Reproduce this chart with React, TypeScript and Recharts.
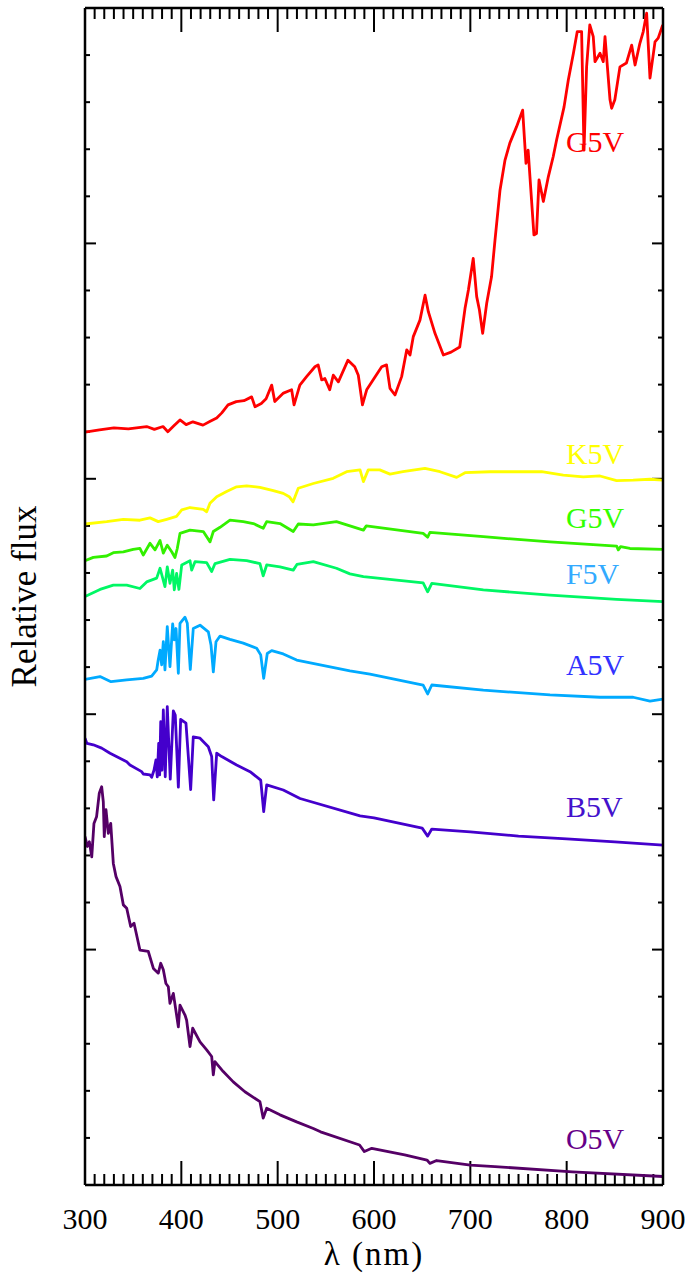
import { LineChart, Line, XAxis, YAxis, ReferenceDot, ReferenceLine } from "recharts"

const SERIF = '"Liberation Serif", "Times New Roman", serif'

// wavelength (nm), relative flux — one minor y tick per flux unit
const M_RED: [number, number][] = [
    [300, 15.99], [315, 16.04], [330, 16.08], [345, 16.06], [364, 16.11], [372, 16.05], [381, 16.11], [386, 16.0],
    [392, 16.12], [398.6, 16.25], [405, 16.15], [412, 16.21], [422.5, 16.14], [430, 16.22], [436.7, 16.29], [442, 16.4],
    [448.5, 16.57], [457, 16.64], [465, 16.66], [473, 16.74], [476.5, 16.53], [483, 16.6], [488, 16.7], [493.8, 16.99],
    [497, 16.64], [506, 16.82], [514.5, 16.89], [517, 16.57], [523, 16.99], [530, 17.17], [538.7, 17.38], [542, 17.42],
    [545.7, 17.1], [549, 17.13], [554, 16.89], [557.7, 17.2], [563, 17.06], [573, 17.52], [580, 17.38], [583.7, 17.2],
    [588, 16.57], [592.4, 16.89], [599, 17.1], [608, 17.38], [613, 17.42], [616.6, 16.92], [621.8, 16.78], [628.7, 17.17],
    [634, 17.74], [637.4, 17.63], [640.8, 18.02], [647.7, 18.37], [653, 18.9], [656.4, 18.55], [663.3, 18.09], [672, 17.63],
    [680, 17.69], [689, 17.8], [694.5, 18.62], [698, 19.01], [703, 19.68], [706.6, 18.87], [709.4, 18.59], [712.8, 18.09],
    [717, 18.73], [722, 19.29], [725.6, 20.07], [730.8, 21.13], [736, 21.77], [741, 22.13], [748, 22.48], [754.3, 22.83],
    [757.8, 21.7], [760, 21.98], [766, 20.18], [768.7, 20.21], [771.3, 21.35], [775.8, 20.89], [781, 21.42], [786, 21.84],
    [789.6, 22.2], [797.3, 22.9], [801.7, 23.47], [807, 24.04], [811, 24.5], [815.5, 24.5], [818, 21.98], [820.7, 23.75],
    [824, 24.64], [827.6, 24.39], [829.4, 23.86], [834.6, 24.04], [838, 23.86], [839.8, 24.39], [845, 23.05], [846.7, 22.87],
    [850, 23.05], [855.3, 23.75], [862, 23.83], [867.5, 24.21], [871, 23.79], [876, 24.25], [879.5, 24.5], [883, 24.89],
    [886.5, 23.51], [891.7, 24.28], [895, 24.36], [899.7, 24.64],
]

const K5V: [number, number][] = [
    [300, 14.04], [322.5, 14.09], [339.8, 14.14], [357, 14.12], [367.5, 14.17], [376, 14.09], [384.8, 14.14], [395, 14.2],
    [400.4, 14.34], [409, 14.39], [422.8, 14.35], [426.3, 14.3], [429.7, 14.48], [436.7, 14.62], [447, 14.73], [457.4, 14.83],
    [467.8, 14.85], [481.6, 14.82], [495.5, 14.75], [505.8, 14.69], [512, 14.62], [516, 14.51], [521.4, 14.8], [537, 14.9],
    [557.7, 15.01], [571.6, 15.15], [585.5, 15.19], [589, 14.94], [594, 15.19], [606, 15.19], [616.6, 15.1], [630, 15.15],
    [652.9, 15.22], [668.5, 15.15], [685.8, 15.03], [694.5, 15.13], [720.5, 15.15], [748, 15.15], [774, 15.15], [796.5, 15.08],
    [817.3, 15.04], [834.6, 15.06], [851.8, 14.96], [869, 14.97], [886.5, 14.99], [900, 14.97],
]

const G5V: [number, number][] = [
    [300, 13.26], [308.6, 13.33], [322.5, 13.36], [329.4, 13.43], [339.8, 13.45], [350, 13.5], [357, 13.52], [360.5, 13.38],
    [367.5, 13.63], [372.7, 13.49], [377.9, 13.69], [381.3, 13.42], [385.4, 13.59], [390, 13.45], [393.4, 13.33], [395.8, 13.52],
    [398.6, 13.84], [409, 13.91], [422.8, 13.88], [429.8, 13.66], [433.2, 13.88], [440.2, 13.97], [450.5, 14.12], [464.3, 14.09],
    [474.7, 14.05], [485, 13.95], [488.6, 14.09], [502.4, 14.05], [516.2, 13.88], [521.4, 14.04], [537, 14.02], [561, 14.09],
    [575, 14.0], [589, 13.91], [592, 14.0], [651, 13.84], [655.7, 13.76], [658, 13.86], [713.5, 13.77], [782.7, 13.66],
    [851.9, 13.57], [853.6, 13.49], [856, 13.56], [865.7, 13.52], [900, 13.5],
]

const F5V: [number, number][] = [
    [300, 12.5], [315.6, 12.65], [329.4, 12.74], [343.3, 12.74], [357, 12.67], [364, 12.81], [374.4, 12.89], [377.9, 13.1],
    [383, 12.71], [385.4, 13.13], [388.2, 12.78], [391, 13.06], [392.7, 12.64], [395.1, 12.99], [397.5, 12.65], [400.4, 13.17],
    [409, 13.26], [410.7, 13.06], [414.2, 13.24], [426.3, 13.22], [431.5, 13.03], [435, 13.2], [450.5, 13.29], [467.8, 13.26],
    [481.6, 13.2], [485, 12.94], [488.6, 13.17], [502.4, 13.13], [516.2, 13.06], [520, 13.18], [537, 13.24], [561, 13.1],
    [575, 12.98], [589, 12.92], [651, 12.79], [655.7, 12.6], [660, 12.78], [713.5, 12.64], [782.7, 12.53], [851.9, 12.44],
    [900, 12.39],
]

const A5V: [number, number][] = [
    [300, 10.74], [315.6, 10.8], [327, 10.69], [343.3, 10.73], [360.5, 10.76], [369.2, 10.81], [374.4, 10.94], [376, 11.15],
    [377.9, 11.36], [379.6, 11.05], [381.3, 11.54], [383, 10.94], [385.4, 11.86], [388.2, 11.01], [391, 11.92], [392.7, 11.58],
    [394.5, 11.82], [396.9, 10.87], [398.6, 11.93], [403.8, 12.06], [406.2, 11.93], [409.3, 10.95], [412.4, 11.82], [419.4, 11.89],
    [428, 11.75], [430.8, 11.47], [433.2, 10.9], [436, 11.54], [440.2, 11.66], [450.5, 11.59], [464.3, 11.51], [478.2, 11.4],
    [482.4, 11.26], [485.5, 10.76], [489.2, 11.29], [493.8, 11.35], [505.8, 11.28], [519.7, 11.15], [575, 10.92], [595.8, 10.85],
    [651, 10.62], [655.7, 10.43], [660, 10.62], [713.5, 10.51], [782.7, 10.41], [834.6, 10.36], [869, 10.36], [886.5, 10.28],
    [900, 10.32],
]

const B5V: [number, number][] = [
    [300, 9.49], [302, 9.38], [308.6, 9.35], [317.3, 9.28], [326, 9.17], [343.3, 8.99], [346.7, 8.92], [358.8, 8.78],
    [360.5, 8.73], [367.5, 8.71], [369.2, 8.66], [371.6, 8.81], [373.7, 9.03], [375, 8.67], [376.5, 9.38], [377.5, 8.71],
    [378.6, 9.84], [379.9, 8.81], [381.3, 10.09], [383.3, 8.67], [385.4, 10.16], [388.5, 8.62], [391.7, 10.07], [393.7, 9.98],
    [396.9, 8.45], [399.3, 9.89], [404.8, 9.81], [409.7, 8.4], [412.4, 9.52], [419.4, 9.49], [428, 9.31], [431.5, 9.1],
    [433.6, 8.18], [436.7, 9.17], [441.9, 9.1], [457.4, 8.92], [471.3, 8.78], [482.4, 8.6], [485.5, 7.93], [488.6, 8.5],
    [505.8, 8.39], [523.2, 8.21], [585.5, 7.84], [600, 7.8], [650, 7.58], [655.7, 7.41], [660, 7.56], [700, 7.5],
    [750, 7.41], [800, 7.35], [850, 7.29], [900, 7.22],
]

const O5V: [number, number][] = [
    [300, 7.4], [302.4, 7.19], [304.5, 7.29], [307, 6.97], [309.3, 7.68], [312, 7.82], [314.8, 8.32], [317.3, 8.46],
    [319, 8.14], [320, 7.4], [321.8, 7.97], [324.2, 7.47], [326.7, 7.68], [329.4, 6.83], [332.2, 6.55], [336.3, 6.34],
    [339.8, 5.95], [343.3, 5.88], [347.4, 5.49], [350.9, 5.56], [357, 4.99], [365.7, 4.96], [371, 4.6], [376.1, 4.5],
    [378.6, 4.71], [381.3, 4.57], [384, 4.28], [386.5, 4.21], [388.2, 3.86], [391.7, 4.07], [396.9, 3.36], [398.6, 3.82],
    [403.8, 3.61], [405.5, 3.5], [409, 2.94], [411.8, 3.33], [419.4, 3.04], [426.3, 2.87], [431.5, 2.73], [433.2, 2.34],
    [434.9, 2.62], [443.5, 2.41], [453.9, 2.19], [466, 1.98], [481.6, 1.77], [485, 1.42], [488.6, 1.63], [502.4, 1.49],
    [519.7, 1.34], [537, 1.2], [544.5, 1.13], [585, 0.85], [590, 0.71], [597.7, 0.78], [631.8, 0.64], [655, 0.53],
    [658, 0.46], [665, 0.52], [700, 0.42], [725.5, 0.39], [806, 0.28], [900, 0.18],
]

const SERIES = [M_RED, K5V, G5V, F5V, A5V, B5V, O5V]
const LINE_COLORS = ["#ff0000", "#ffff00", "#33f000", "#00f764", "#00aaff", "#4400cc", "#550066"]

// curve labels sit at the right, just above each spectrum
const LABEL_TEXT = ["G5V", "K5V", "G5V", "F5V", "A5V", "B5V", "O5V"]
const LABEL_Y = [22.17, 15.53, 14.19, 13.0, 11.05, 8.05, 1.0]
const LABEL_COLORS = ["#ff0000", "#ffff00", "#33ff00", "#33aaff", "#3333ff", "#4411cc", "#660088"]
const LABEL_X = 794

const X_DOMAIN: [number, number] = [300, 900]
const Y_DOMAIN: [number, number] = [0, 25]
const X_MAJOR = [300, 400, 500, 600, 700, 800, 900]
const X_TICKS = Array.from({ length: 61 }, (_, i) => 300 + i * 10)
const Y_TICKS = Array.from({ length: 26 }, (_, i) => i)

// plot box edges in page pixels; axes get a 1px band so they still render
const BOX = { left: 85, right: 663, top: 8, bottom: 1185 }
const W = 693
const H = 1274

// inward tick lengths (px) turned into data units for the reference segments
const NM_PER_PX = (X_DOMAIN[1] - X_DOMAIN[0]) / (BOX.right - BOX.left)
const FLUX_PER_PX = (Y_DOMAIN[1] - Y_DOMAIN[0]) / (BOX.bottom - BOX.top)
const X_TICK_LEN = (v: number) => (X_MAJOR.includes(v) ? 24 : 11) * FLUX_PER_PX
const Y_TICK_LEN = (v: number) => (v % 5 === 0 ? 11 : 5) * NM_PER_PX
const Y_FLOOR = Y_DOMAIN[0] + 0.5 * FLUX_PER_PX

const toRows = (pts: [number, number][]) => pts.map(([w, f]) => ({ w, f }))

const xLabel = (props: any) => {
    const { x, payload } = props
    return (
        <text x={x} y={BOX.bottom + 44} textAnchor="middle" fontSize={30} fontFamily={SERIF} fill="#000">
            {payload.value}
        </text>
    )
}

const xTitle = () => (
    <text
        x={(BOX.left + BOX.right) / 2} y={BOX.bottom + 80} textAnchor="middle"
        fontSize={33} letterSpacing={2} fontFamily={SERIF} fill="#000"
    >
        λ (nm)
    </text>
)

const yTitle = () => {
    const cx = BOX.left - 49
    const cy = (BOX.top + BOX.bottom) / 2
    return (
        <text x={cx} y={cy} transform={`rotate(-90, ${cx}, ${cy})`} textAnchor="middle" fontSize={35} fontFamily={SERIF} fill="#000">
            Relative flux
        </text>
    )
}

export default function App() {
    const axisLine = { stroke: "#000", strokeWidth: 2.5 }
    const tickStyle = { stroke: "#000", strokeWidth: 2, ifOverflow: "visible" as const, xAxisId: "b", yAxisId: "l" }
    return (
        <div style={{ position: "absolute", left: 0, top: 0, width: W, height: H, background: "#fff", fontFamily: SERIF }}>
            <LineChart
                width={W}
                height={H}
                margin={{ top: BOX.top - 1, right: W - BOX.right - 1, bottom: H - BOX.bottom - 1, left: BOX.left - 1 }}
            >
                <XAxis
                    xAxisId="b" dataKey="w" type="number" domain={X_DOMAIN} ticks={X_MAJOR} interval={0}
                    height={1} tickSize={0} tickMargin={0} tickLine={false} tick={xLabel}
                    axisLine={axisLine} label={xTitle} allowDataOverflow
                />
                <XAxis
                    xAxisId="t" orientation="top" dataKey="w" type="number" domain={X_DOMAIN}
                    height={1} tick={false} tickLine={false} axisLine={axisLine}
                />
                <YAxis
                    yAxisId="l" type="number" domain={Y_DOMAIN} ticks={[0, 25]}
                    width={1} tick={false} tickLine={false} axisLine={axisLine} label={yTitle}
                />
                <YAxis
                    yAxisId="r" orientation="right" type="number" domain={Y_DOMAIN}
                    width={1} tick={false} tickLine={false} axisLine={axisLine}
                />

                {/* inward ticks on all four sides of the box */}
                {X_TICKS.map((v) => (
                    <ReferenceLine key={"xb" + v} {...tickStyle}
                        segment={[{ x: v, y: Y_FLOOR }, { x: v, y: Y_DOMAIN[0] + X_TICK_LEN(v) }]} />
                ))}
                {X_TICKS.map((v) => (
                    <ReferenceLine key={"xt" + v} {...tickStyle}
                        segment={[{ x: v, y: Y_DOMAIN[1] }, { x: v, y: Y_DOMAIN[1] - X_TICK_LEN(v) }]} />
                ))}
                {Y_TICKS.map((v) => (
                    <ReferenceLine key={"yl" + v} {...tickStyle}
                        segment={[{ x: X_DOMAIN[0], y: v }, { x: X_DOMAIN[0] + Y_TICK_LEN(v), y: v }]} />
                ))}
                {Y_TICKS.map((v) => (
                    <ReferenceLine key={"yr" + v} {...tickStyle}
                        segment={[{ x: X_DOMAIN[1], y: v }, { x: X_DOMAIN[1] - Y_TICK_LEN(v), y: v }]} />
                ))}

                {SERIES.map((pts, i) => (
                    <Line
                        key={i}
                        xAxisId="b"
                        yAxisId="l"
                        data={toRows(pts)}
                        dataKey="f"
                        type="linear"
                        stroke={LINE_COLORS[i]}
                        strokeWidth={2.8}
                        strokeLinejoin="round"
                        dot={false}
                        activeDot={false}
                        isAnimationActive={false}
                    />
                ))}
                {LABEL_TEXT.map((t, i) => (
                    <ReferenceDot
                        key={"lbl" + i}
                        xAxisId="b"
                        yAxisId="l"
                        x={LABEL_X}
                        y={LABEL_Y[i]}
                        r={0}
                        fill="none"
                        stroke="none"
                        label={{ value: t, position: "right", offset: 5, fill: LABEL_COLORS[i], fontSize: 30, fontFamily: SERIF }}
                    />
                ))}
            </LineChart>
        </div>
    )
}
